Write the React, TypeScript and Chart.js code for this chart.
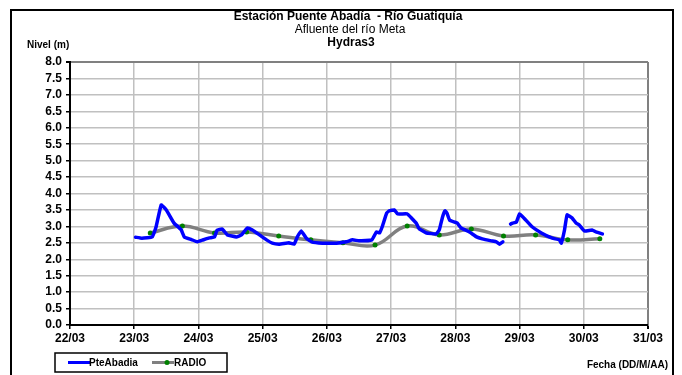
import React, { useEffect, useRef } from "react";
import { Chart, registerables } from "chart.js";

Chart.register(...registerables);

// Day of March (decimal) for the PteAbadia series; null marks the gap
const pteDays = [
  23.02, 23.12, 23.28, 23.34, 23.42, 23.5, 23.62, 23.73, 23.78, 23.89, 23.98,
  24.06, 24.17, 24.25, 24.29, 24.37, 24.45, 24.59, 24.67, 24.76, 24.84, 24.95,
  25.06, 25.15, 25.26, 25.41, 25.49, 25.54, 25.6, 25.68, 25.76, 25.93, 26.15,
  26.3, 26.4, 26.5, 26.7, 26.77, 26.82, 26.86, 26.93, 26.97, 27.05, 27.1,
  27.25, 27.32, 27.39, 27.44, 27.55, 27.7, 27.75, 27.8, 27.84, 27.87, 27.91,
  27.99, 28.03, 28.09, 28.22, 28.33, 28.42, 28.56, 28.64, 28.69, 28.74, 28.8,
  28.86, 28.89, 28.95, 29.0, 29.07, 29.2, 29.34, 29.51, 29.62, 29.65, 29.7,
  29.74, 29.82, 29.88, 29.93, 30.01, 30.13, 30.19, 30.29,
];
const pteLevels = [
  2.67, 2.64, 2.68, 2.98, 3.65, 3.5, 3.1, 2.9, 2.68, 2.6, 2.53,
  2.58, 2.65, 2.68, 2.88, 2.92, 2.74, 2.68, 2.74, 2.95, 2.89, 2.74,
  2.59, 2.49, 2.46, 2.5, 2.46, 2.68, 2.86, 2.64, 2.53, 2.49, 2.49,
  2.53, 2.59, 2.56, 2.59, 2.83, 2.8, 2.98, 3.4, 3.47, 3.5, 3.38,
  3.38, 3.25, 3.1, 2.92, 2.8, 2.77, 2.89, 3.28, 3.47, 3.4, 3.19,
  3.13, 3.1, 2.95, 2.83, 2.68, 2.62, 2.56, 2.53, 2.46, 2.53, null,
  3.07, 3.1, 3.13, 3.38, 3.25, 2.98, 2.8, 2.64, 2.59, 2.49, 2.89,
  3.35, 3.25, 3.1, 3.04, 2.86, 2.89, 2.83, 2.77,
];

// RADIO readings (06:00 and 18:00)
const radioDays = [
  23.25, 23.75, 24.25, 24.75, 25.25, 25.75, 26.25, 26.75, 27.25, 27.75,
  28.25, 28.75, 29.25, 29.75, 30.25,
];
const radioLevels = [
  2.8, 3.01, 2.8, 2.83, 2.71, 2.59, 2.5, 2.43, 3.01, 2.74, 2.92, 2.71, 2.74,
  2.59, 2.62,
];

const titleLines = ["Estación Puente Abadía  - Río Guatiquía", "Afluente del río Meta", "Hydras3"];
const yAxisTitle = "Nivel (m)";
const xAxisTitle = "Fecha (DD/M/AA)";
const seriesNames = ["PteAbadia", "RADIO"];
const xMin = 22;
const xMax = 31;
const yMin = 0;
const yMax = 8;

const FONT = "'Liberation Sans', Arial, sans-serif";

const decorPlugin = {
  id: "decor",
  afterDraw(chart: any) {
    const ctx = chart.ctx as CanvasRenderingContext2D;
    ctx.save();
    // outer frame
    ctx.strokeStyle = "#000";
    ctx.lineWidth = 2;
    ctx.strokeRect(11, 10, 662, 370);

    ctx.fillStyle = "#000";
    ctx.textBaseline = "middle";
    ctx.textAlign = "center";
    ctx.font = `bold 12px ${FONT}`;
    ctx.fillText(titleLines[0], 348, 17);
    ctx.font = `12px ${FONT}`;
    ctx.fillText(titleLines[1], 350, 30);
    ctx.font = `bold 12px ${FONT}`;
    ctx.fillText(titleLines[2], 351, 43);

    ctx.textAlign = "left";
    ctx.font = `bold 10px ${FONT}`;
    ctx.fillText(yAxisTitle, 27, 45);

    ctx.textAlign = "right";
    ctx.fillText(xAxisTitle, 668, 365);

    // legend
    ctx.lineWidth = 1.5;
    ctx.strokeRect(55, 353, 172, 19);
    ctx.lineWidth = 3;
    ctx.strokeStyle = "#0000ff";
    ctx.beginPath();
    ctx.moveTo(68, 362.5);
    ctx.lineTo(90, 362.5);
    ctx.stroke();
    ctx.strokeStyle = "#808080";
    ctx.beginPath();
    ctx.moveTo(152, 362.5);
    ctx.lineTo(174, 362.5);
    ctx.stroke();
    ctx.fillStyle = "#008000";
    ctx.beginPath();
    ctx.arc(167, 362.5, 2.5, 0, Math.PI * 2);
    ctx.fill();
    ctx.fillStyle = "#000";
    ctx.textAlign = "left";
    ctx.font = `bold 10px ${FONT}`;
    ctx.fillText(seriesNames[0], 89, 363);
    ctx.fillText(seriesNames[1], 174, 363);
    ctx.restore();
  },
};

export default function App() {
  const ref = useRef<HTMLCanvasElement | null>(null);
  useEffect(() => {
    if (!ref.current) return;
    const pteData = pteDays.map((d, i) => ({ x: d, y: pteLevels[i] }));
    const radioData = radioDays.map((d, i) => ({ x: d, y: radioLevels[i] }));
    const chart = new Chart(ref.current, {
      type: "line",
      data: {
        datasets: [
          {
            label: seriesNames[0],
            data: pteData as any,
            borderColor: "#0000ff",
            borderWidth: 3.5,
            pointRadius: 0,
            tension: 0.1,
            spanGaps: false,
            borderCapStyle: "round",
            borderJoinStyle: "round",
          },
          {
            label: seriesNames[1],
            data: radioData as any,
            borderColor: "#808080",
            borderWidth: 3.5,
            pointRadius: 2.5,
            pointBackgroundColor: "#008000",
            pointBorderWidth: 0,
            tension: 0.4,
          },
        ],
      },
      options: {
        responsive: false,
        animation: false,
        layout: { padding: { top: 62, right: 34, left: 0, bottom: 0 } },
        plugins: { legend: { display: false }, title: { display: false }, tooltip: { enabled: false } },
        scales: {
          x: {
            type: "linear",
            min: xMin,
            max: xMax,
            ticks: {
              stepSize: 1,
              autoSkip: false,
              color: "#000",
              font: { family: FONT, size: 12, weight: "bold" },
              padding: 2,
              maxRotation: 0,
              callback: (v: any) => `${String(v).padStart(2, "0")}/03`,
            },
            grid: {
              color: (c: any) => (c.tick && c.tick.value === xMax ? "#808080" : "#c0c0c0"),
              lineWidth: (c: any) => (c.tick && c.tick.value === xMax ? 2 : 1.5),
              tickColor: "#000",
              tickLength: 4,
            },
            border: { color: "#000", width: 2 },
            afterFit: (s: any) => {
              s.height = 50;
            },
          },
          y: {
            min: yMin,
            max: yMax,
            ticks: {
              stepSize: 0.5,
              autoSkip: false,
              color: "#000",
              font: { family: FONT, size: 12, weight: "bold" },
              padding: 4,
              callback: (v: any) => Number(v).toFixed(1),
            },
            grid: {
              color: (c: any) => (c.tick && c.tick.value === yMax ? "#808080" : "#c0c0c0"),
              lineWidth: (c: any) => (c.tick && c.tick.value === yMax ? 2 : 1.5),
              tickColor: "#000",
              tickLength: 4,
            },
            border: { color: "#000", width: 2 },
            afterFit: (s: any) => {
              s.width = 70;
            },
          },
        },
      },
      plugins: [decorPlugin],
    });
    return () => chart.destroy();
  }, []);
  return (
    <div style={{ position: "fixed", left: 0, top: 0, width: 682, height: 375, background: "#fff" }}>
      <canvas ref={ref} width={682} height={375} style={{ width: 682, height: 375 }} />
    </div>
  );
}
